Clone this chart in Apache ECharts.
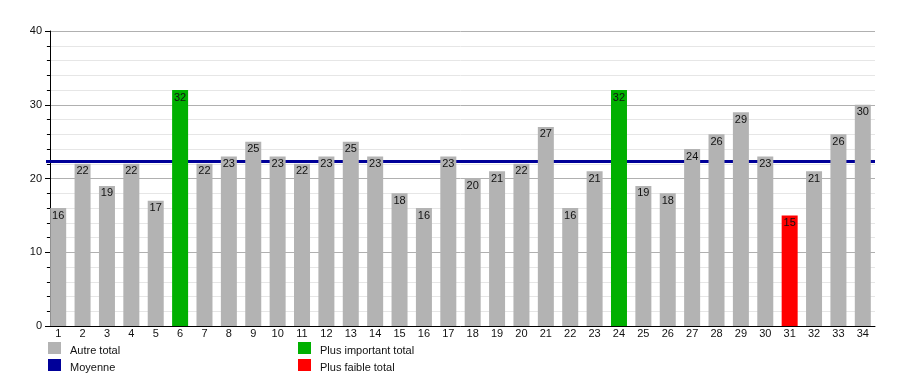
<!DOCTYPE html>
<html>
<head>
<meta charset="utf-8">
<script src="https://cdn.jsdelivr.net/npm/echarts@6/dist/echarts.min.js"></script>
<style>html,body{margin:0;padding:0;background:#fff}#c{width:900px;height:375px}</style>
</head>
<body>
<div id="c"></div>
<script>
const categories = ['1','2','3','4','5','6','7','8','9','10','11','12','13','14','15','16','17','18','19','20','21','22','23','24','25','26','27','28','29','30','31','32','33','34'];
const totals = [16,22,19,22,17,32,22,23,25,23,22,23,25,23,18,16,23,20,21,22,27,16,21,32,19,18,24,26,29,23,15,21,26,30];
const highestIdx = [5, 23];
const lowestIdx = [30];
const meanValue = 22.4;
const yTicks = [0, 10, 20, 30, 40];

const otherData = totals.map((v,i) => (highestIdx.includes(i) || lowestIdx.includes(i)) ? null : v);
const highData = totals.map((v,i) => highestIdx.includes(i) ? v : null);
const lowData = totals.map((v,i) => lowestIdx.includes(i) ? v : null);

const FONT = 'Liberation Sans, Arial, sans-serif';
const lbl = {show:true, position:'insideTop', distance:2, color:'#111', fontSize:11, fontFamily:FONT,
  formatter: p => p.value == null ? '' : p.value};
const legText = {fontSize:11, fontFamily:FONT, color:'#111',
  rich:{t:{fontSize:11, fontFamily:FONT, color:'#111', padding:[6,0,0,4]}}};
const legItem = (name, left, top) => ({left, top, padding:0, itemWidth:13, itemHeight:12, icon:'rect',
  formatter:'{t|{name}}', textStyle:legText, data:[name]});

const chart = echarts.init(document.getElementById('c'), null, {renderer:'canvas'});
chart.setOption({
  animation:false,
  grid:{left:46, right:25, top:31, bottom:49},
  xAxis:{type:'category', data:categories,
    axisLine:{lineStyle:{color:'#000', width:1}},
    axisTick:{show:false},
    axisLabel:{color:'#111', fontSize:11, fontFamily:FONT, margin:2, interval:0}},
  yAxis:{type:'value', min:yTicks[0], max:yTicks[yTicks.length-1], interval:10, offset:-4,
    axisLine:{show:true, lineStyle:{color:'#000'}},
    axisTick:{show:true, length:5, lineStyle:{color:'#000'}},
    minorTick:{show:true, splitNumber:5, length:3, lineStyle:{color:'#000'}},
    splitLine:{lineStyle:{color:'#b0b0b0'}},
    minorSplitLine:{show:true, lineStyle:{color:'#e6e6e6'}},
    axisLabel:{color:'#111', fontSize:11, fontFamily:FONT, margin:8}},
  legend:[
    legItem('Autre total', 48, 342),
    legItem('Moyenne', 48, 359),
    legItem('Plus important total', 298, 342),
    legItem('Plus faible total', 298, 359)
  ],
  series:[
    {name:'Autre total', type:'bar', stack:'t', z:3, data:otherData, barWidth:16, itemStyle:{color:'#b3b3b3'}, label:lbl},
    {name:'Plus important total', type:'bar', stack:'t', z:3, data:highData, barWidth:16, itemStyle:{color:'#00b000'}, label:lbl},
    {name:'Plus faible total', type:'bar', stack:'t', z:3, data:lowData, barWidth:16, itemStyle:{color:'#ff0000'}, label:lbl},
    {name:'Moyenne', type:'line', z:1, data:[], itemStyle:{color:'#000099'}, lineStyle:{color:'#000099'},
     markLine:{silent:true, z:1, symbol:['none','none'], label:{show:false},
       lineStyle:{color:'#000099', width:3, type:'solid'}, data:[{yAxis:meanValue}]}}
  ]
});
</script>
</body>
</html>
